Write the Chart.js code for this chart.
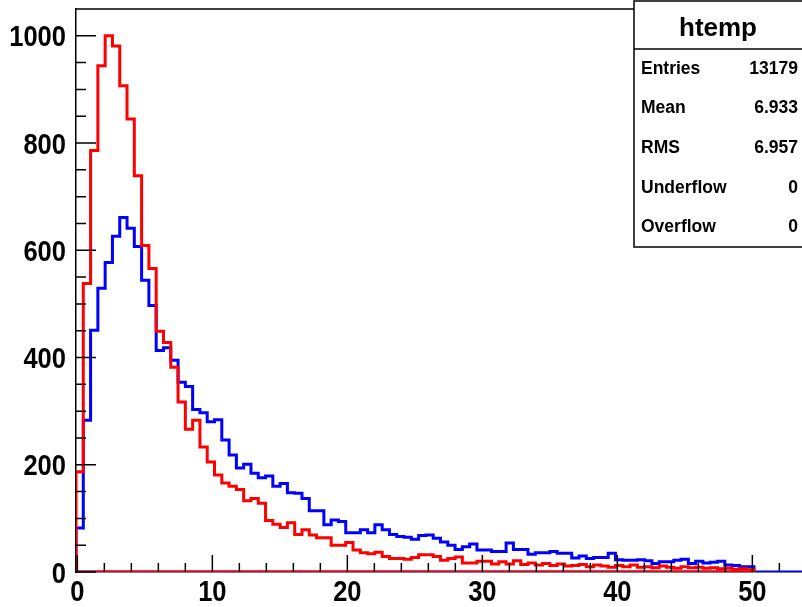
<!DOCTYPE html>
<html>
<head>
<meta charset="UTF-8">
<title>htemp</title>
<script src="https://cdn.jsdelivr.net/npm/chart.js"></script>
<style>
  body { margin: 0; overflow: hidden; background: #fff; }
  #wrap { width: 802px; height: 607px; overflow: hidden; }
</style>
</head>
<body>
<div id="wrap"><canvas id="histo" width="806" height="607"></canvas></div>
<script>
// histogram binning (100 bins)
const binStart = -0.1;
const binWidth = 0.54;
const nBins = 100;

// bin contents
const redCounts = [
  187, 538, 786, 944, 1000, 981, 907, 845, 739, 609,
  566, 449, 428, 382, 317, 266, 283, 233, 205, 181,
  166, 160, 154, 133, 137, 128, 96, 89, 83, 92,
  70, 79, 69, 64, 64, 50, 50, 55, 41, 36,
  34, 37, 29, 25, 25, 24, 27, 32, 32, 29,
  22, 25, 28, 17, 17, 20, 20, 15, 19, 15,
  21, 14, 17, 13, 16, 12, 15, 11, 12, 14,
  10, 13, 11, 9, 12, 10, 13, 9, 10, 8,
  11, 9, 7, 10, 8, 9, 7, 8, 6, 7,
  5, 6, 4
];
const blueCounts = [
  82, 283, 451, 529, 577, 626, 661, 641, 607, 544,
  497, 413, 418, 395, 354, 346, 303, 297, 280, 284,
  246, 218, 194, 201, 184, 176, 179, 160, 165, 148,
  147, 137, 114, 114, 88, 97, 94, 73, 73, 79,
  73, 88, 79, 70, 66, 65, 61, 68, 69, 63,
  56, 50, 42, 47, 52, 41, 41, 38, 38, 54,
  42, 42, 33, 36, 36, 38, 35, 35, 26, 30,
  25, 27, 27, 35, 23, 22, 22, 23, 21, 16,
  19, 19, 22, 24, 16, 20, 17, 18, 20, 13,
  12, 10, 10, 0, 0, 0, 0, 0, 0, 0
];

const xLabels = [0, 10, 20, 30, 40, 50];
const yLabels = [0, 200, 400, 600, 800, 1000];
const yMax = 1050;

const statsTitle = 'htemp';
const statsNames = ['Entries', 'Mean', 'RMS', 'Underflow', 'Overflow'];
const statsValues = ['13179', '6.933', '6.957', '0', '0'];

// ROOT style outline: up from the baseline, step over every bin, back to the baseline
function outline(counts) {
  const pts = [{x: binStart, y: 0}];
  counts.forEach((c, i) => {
    const lo = binStart + i * binWidth;
    pts.push({x: lo, y: c}, {x: lo + binWidth, y: c});
  });
  const end = binStart + counts.length * binWidth;
  pts.push({x: end, y: 0}, {x: binStart, y: 0});
  return pts;
}

const labelFont = 'bold 29px "Liberation Sans", Arial, sans-serif';
const squeeze = 0.88;   // ROOT's bold helvetica looks a bit condensed

// draw a slightly condensed label, anchored at (px, baseline)
function condensed(ctx, text, px, py, align) {
  const w = ctx.measureText(text).width * squeeze;
  let left = px;
  if (align === 'center') left = px - w / 2;
  if (align === 'right') left = px - w;
  ctx.save();
  ctx.translate(left, py);
  ctx.scale(squeeze, 1);
  ctx.textAlign = 'left';
  ctx.fillText(text, 0, 0);
  ctx.restore();
}

const rootFrame = {
  id: 'rootFrame',
  afterDatasetsDraw(chart) {
    const {ctx, chartArea: a, scales: {x, y}} = chart;
    ctx.save();
    ctx.strokeStyle = '#000';
    ctx.lineWidth = 1.5;
    ctx.beginPath();
    ctx.moveTo(a.left, a.top);
    ctx.lineTo(a.right, a.top);
    // inward ticks, ROOT style
    for (let v = 0; v <= x.max; v += 2) {
      const px = x.getPixelForValue(v);
      const len = v % 10 === 0 ? 17 : 9;
      ctx.moveTo(px, a.bottom);
      ctx.lineTo(px, a.bottom - len);
    }
    for (let v = 0; v <= y.max; v += 50) {
      const py = y.getPixelForValue(v);
      const len = v % 200 === 0 ? 20 : 10;
      ctx.moveTo(a.left, py);
      ctx.lineTo(a.left + len, py);
    }
    ctx.stroke();
    ctx.restore();
  },
  afterDraw(chart) {
    const {ctx, chartArea: a, scales: {x, y}} = chart;
    ctx.save();
    // axis labels
    ctx.fillStyle = '#000';
    ctx.font = labelFont;
    ctx.textBaseline = 'alphabetic';
    x.ticks.forEach(t => condensed(ctx, String(t.value), x.getPixelForValue(t.value), a.bottom + 29, 'center'));
    y.ticks.forEach(t => condensed(ctx, String(t.value), a.left - 10, y.getPixelForValue(t.value) + 10.5, 'right'));

    // stats box
    const bx = 634, by = 1, bw = 180, bh = 246;
    ctx.fillStyle = '#fff';
    ctx.fillRect(bx, by, bw, bh);
    ctx.strokeStyle = '#000';
    ctx.lineWidth = 1.5;
    ctx.strokeRect(bx, by, bw, bh);
    ctx.beginPath();
    ctx.moveTo(bx, 49);
    ctx.lineTo(bx + bw, 49);
    ctx.stroke();

    ctx.fillStyle = '#000';
    ctx.textBaseline = 'middle';
    ctx.textAlign = 'center';
    ctx.font = 'bold 26px "Liberation Sans", Arial, sans-serif';
    ctx.fillText(statsTitle, 718, 29);

    ctx.font = 'bold 17.5px "Liberation Sans", Arial, sans-serif';
    statsNames.forEach((name, i) => {
      const ty = 69 + 39.6 * i;
      ctx.textAlign = 'left';
      ctx.fillText(name, 641, ty);
      ctx.textAlign = 'right';
      ctx.fillText(statsValues[i], 798, ty);
    });
    ctx.restore();
  }
};

new Chart(document.getElementById('histo'), {
  type: 'line',
  data: {
    datasets: [
      {
        label: 'red',
        data: outline(redCounts),
        borderColor: '#ff0000',
        borderWidth: 3,
        pointRadius: 0,
        tension: 0,
        fill: false
      },
      {
        label: 'blue',
        data: outline(blueCounts),
        borderColor: '#0000ff',
        borderWidth: 3,
        pointRadius: 0,
        tension: 0,
        fill: false
      }
    ]
  },
  options: {
    responsive: false,
    animation: false,
    layout: {padding: {top: 9, right: 1, left: 0, bottom: 0}},
    plugins: {legend: {display: false}, tooltip: {enabled: false}},
    scales: {
      x: {
        type: 'linear',
        min: binStart,
        max: binStart + nBins * binWidth,
        afterBuildTicks: s => { s.ticks = xLabels.map(v => ({value: v})); },
        afterFit: s => { s.height = 35; s.paddingLeft = 0; s.paddingRight = 0; },
        grid: {display: false, drawTicks: false},
        border: {display: true, color: '#000', width: 1.5},
        ticks: {display: false}
      },
      y: {
        type: 'linear',
        min: 0,
        max: yMax,
        afterBuildTicks: s => { s.ticks = yLabels.map(v => ({value: v})); },
        afterFit: s => { s.width = 76; s.paddingTop = 0; s.paddingBottom = 0; },
        grid: {display: false, drawTicks: false},
        border: {display: true, color: '#000', width: 1.5},
        ticks: {display: false}
      }
    }
  },
  plugins: [rootFrame]
});
</script>
</body>
</html>
